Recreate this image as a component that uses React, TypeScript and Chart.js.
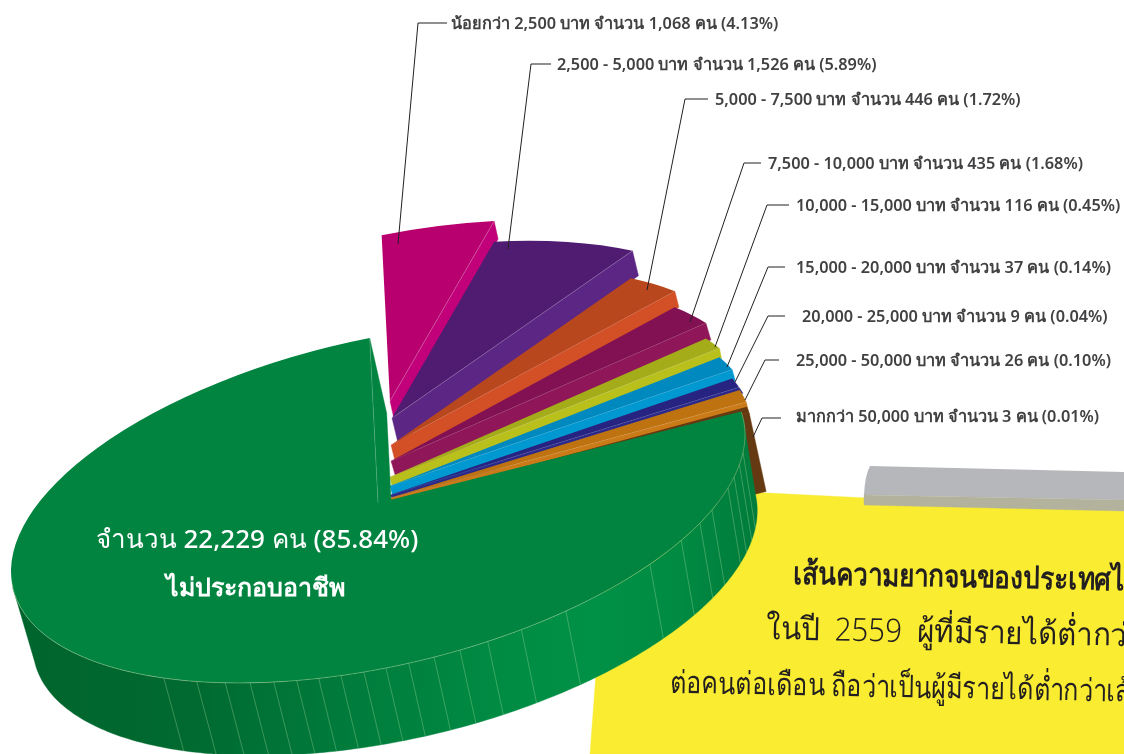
import React, { useEffect, useRef } from "react";
import { Chart, registerables } from "chart.js";

Chart.register(...registerables);

// ---------- data ----------
const categories = [
  "น้อยกว่า 2,500", "2,500 - 5,000", "5,000 - 7,500", "7,500 - 10,000", "10,000 - 15,000",
  "15,000 - 20,000", "20,000 - 25,000", "25,000 - 50,000", "มากกว่า 50,000", "ไม่ประกอบอาชีพ",
];
const peopleCounts = ["1,068", "1,526", "446", "435", "116", "37", "9", "26", "3", "22,229"];
const percentages = ["4.13", "5.89", "1.72", "1.68", "0.45", "0.14", "0.04", "0.10", "0.01", "85.84"];
// slice sizes as drawn in the picture (degrees of the disc; the small groups are drawn enlarged)
const drawnShares = [17.7, 25.3, 10.2, 9, 4.8, 5.5, 3.7, 4.7, 2.1, 277];

// ---------- styles ----------
const topColors = ["#b8006e", "#4f1c72", "#b9471d", "#811152", "#a4ac19", "#0089bf", "#272380", "#be7310", "#653a12", "#00843f"];
const wallColors = ["#c1007a", "#5c2784", "#d34f26", "#8f1759", "#b9c01b", "#0098d0", "#2b2a8a", "#cb7a18", "#653a12", "#00843f"];
const lifts = [[12, -102], [14, -85], [13, -58], [13, -42], [12, -26], [12, -17], [12, -8], [12, -5], [8, 1], [0, 0]];
const depths = [[4, 18], [6, 25], [4, 16], [5, 17], [2, 10], [3, 11], [4, 6], [3, 13], [17, 79], [17, 75]];
const radiusFactors = [1.005, 0.985, 0.983, 0.982, 0.985, 0.985, 0.985, 0.987, 1, 1];
const seamStrengths = [0.35, 0.3, 0.12, 0.12, 0.15, 0.15, 0.15, 0.15, 0, 0.3];
const seamAngles = [125.7, 119.6, 114.6, 110.4, 106.5, 102.8, 99.3, 95.8, 92.2, 88.75, 85.2, 81.2, 77.1, 72.6, 67, 59.2, 42.2, 34.3, 28.7, 24.5, 17.5, 14, 10, 6];
const leaders = [
  [[447, 23], [418, 23], [398, 244]],
  [[551, 64], [531, 64], [508, 249]],
  [[708, 99], [685, 99], [647, 290]],
  [[761, 163], [744, 163], [690, 322]],
  [[789, 205], [767, 205], [715, 347]],
  [[785, 267], [768, 267], [727, 367]],
  [[785, 316], [768, 316], [735, 382]],
  [[779, 360], [765, 360], [745, 400]],
  [[781, 418], [762, 418], [753, 437]],
];
const labelSpots = [[451, 24], [557, 65], [715, 100], [768, 164], [796, 206], [796, 268], [802, 317], [796, 361], [796, 417]];

const CX = 378, CY = 503;
const MXU = 367, MYU = -68.3, MYV = 166.5;
const BOTTOM_SCALE = 0.987;
const FONT = "'Noto Sans', 'DejaVu Sans', sans-serif";
const rad = (d: number) => (d * Math.PI) / 180;

function point(theta: number, lift: number[], r = 1): [number, number] {
  const u = r * Math.cos(theta), v = r * Math.sin(theta);
  return [CX + lift[0] + MXU * u, CY + lift[1] + MYU * u + MYV * v];
}

function poly(ctx: CanvasRenderingContext2D, pts: number[][], fill: string | CanvasGradient) {
  ctx.beginPath();
  pts.forEach((p, i) => (i ? ctx.lineTo(p[0], p[1]) : ctx.moveTo(p[0], p[1])));
  ctx.closePath();
  ctx.fillStyle = fill;
  ctx.fill();
  ctx.strokeStyle = fill;
  ctx.lineWidth = 0.4;
  ctx.stroke();
}

function line(ctx: CanvasRenderingContext2D, pts: number[][], color: string, w = 0.7) {
  ctx.beginPath();
  pts.forEach((p, i) => (i ? ctx.lineTo(p[0], p[1]) : ctx.moveTo(p[0], p[1])));
  ctx.strokeStyle = color;
  ctx.lineWidth = w;
  ctx.stroke();
}

function drawTop(ctx: CanvasRenderingContext2D, arc: any, lift: number[], factor: number) {
  const k = factor / arc.outerRadius;
  ctx.save();
  ctx.translate(CX + lift[0], CY + lift[1]);
  ctx.transform(MXU * k, MYU * k, 0, MYV * k, 0, 0);
  ctx.translate(-arc.x, -arc.y);
  arc.draw(ctx);
  ctx.restore();
}

const backdrop = {
  id: "backdrop",
  beforeDraw(chart: any) {
    const ctx = chart.ctx as CanvasRenderingContext2D;
    ctx.save();
    poly(ctx, [[610, 485], [1124, 511], [1124, 754], [590, 754]], "#f9ec31");
    ctx.beginPath();
    ctx.moveTo(864, 495);
    ctx.quadraticCurveTo(865, 475, 870, 466);
    ctx.lineTo(1124, 472);
    ctx.lineTo(1124, 500);
    ctx.closePath();
    ctx.fillStyle = "#b6b7ba";
    ctx.fill();
    poly(ctx, [[864, 495], [1124, 500], [1124, 511], [864, 505]], "#b3b29c");

    ctx.fillStyle = "#231f20";
    ctx.textBaseline = "middle";
    ctx.textAlign = "left";
    const tilt = rad(1.1);
    const put = (t: string, x: number, y: number, f: string, sx: number) => {
      ctx.save();
      ctx.translate(x, y);
      ctx.rotate(tilt);
      ctx.scale(sx, 1);
      ctx.font = f;
      ctx.fillText(t, 0, 0);
      ctx.restore();
    };
    put("เส้นความยากจนของประเทศไทย", 793, 575, `bold 31px ${FONT}`, 0.84);
    put("ในปี  2559  ผู้ที่มีรายได้ต่ำกว่า 2,667 บาท", 766, 630, `300 32px ${FONT}`, 0.92);
    put("ต่อคนต่อเดือน ถือว่าเป็นผู้มีรายได้ต่ำกว่าเส้นความยากจน", 670, 684, `300 31px ${FONT}`, 0.81);
    ctx.restore();
  },
};

const pie3d = {
  id: "pie3d",
  beforeDatasetsDraw(chart: any) {
    const ctx = chart.ctx as CanvasRenderingContext2D;
    const arcs = chart.getDatasetMeta(0).data as any[];
    const n = arcs.length;
    ctx.save();
    arcs.forEach((arc, i) => {
      const lift = lifts[i], d = depths[i], f = radiusFactors[i];
      if (i === n - 1) {
        // outer rim of the big slice
        const top: number[][] = [], bottom: number[][] = [];
        for (let a = -5.6; a <= 174.4; a += 1) {
          top.push(point(rad(a), lift));
          const q = point(rad(a), [lift[0] + d[0], lift[1] + d[1]], BOTTOM_SCALE);
          bottom.unshift(q);
        }
        const g = ctx.createLinearGradient(30, 0, 770, 0);
        g.addColorStop(0, "#00652d");
        g.addColorStop(0.22, "#006a30");
        g.addColorStop(0.45, "#007d3c");
        g.addColorStop(0.65, "#008c43");
        g.addColorStop(0.76, "#009146");
        g.addColorStop(0.88, "#008a42");
        g.addColorStop(1, "#00793a");
        poly(ctx, top.concat(bottom), g);
        seamAngles.forEach((a) => {
          line(ctx, [point(rad(a), lift), point(rad(a), [lift[0] + d[0], lift[1] + d[1]], BOTTOM_SCALE)], "rgba(190,230,170,0.45)", 0.7);
        });
      }
      const end = arc.endAngle;
      const outer = point(end, lift, f);
      const apex = point(0, lift, 0);
      poly(ctx, [outer, [outer[0] + d[0], outer[1] + d[1]], [apex[0] + d[0], apex[1] + d[1]], apex], wallColors[i]);
      drawTop(ctx, arc, lift, f);
      if (seamStrengths[i] > 0) line(ctx, [outer, apex], `rgba(255,255,255,${seamStrengths[i]})`, 0.6);
      if (i === n - 1) {
        const rim: number[][] = [];
        for (let a = -8; a <= 176; a += 1) rim.push(point(rad(a), lift));
        line(ctx, rim, "rgba(200,230,170,0.55)", 0.7);
      }
    });
    ctx.restore();
    return false;
  },
};

const annotations = {
  id: "annotations",
  afterDraw(chart: any) {
    const ctx = chart.ctx as CanvasRenderingContext2D;
    ctx.save();
    leaders.forEach((l) => line(ctx, l, "#231f20", 1));
    ctx.textBaseline = "middle";
    ctx.textAlign = "left";
    ctx.fillStyle = "#414042";
    ctx.font = `600 16.3px ${FONT}`;
    labelSpots.forEach((s, i) => {
      ctx.fillText(`${categories[i]} บาท จำนวน ${peopleCounts[i]} คน (${percentages[i]}%)`, s[0], s[1]);
    });
    const last = categories.length - 1;
    ctx.fillStyle = "#ffffff";
    ctx.textAlign = "center";
    ctx.font = `500 26px ${FONT}`;
    ctx.fillText(`จำนวน ${peopleCounts[last]} คน (${percentages[last]}%)`, 257, 541);
    ctx.font = `bold 25px ${FONT}`;
    ctx.fillText(categories[last], 255, 589);
    ctx.restore();
  },
};

export default function App() {
  const ref = useRef<HTMLCanvasElement>(null);
  useEffect(() => {
    const chart = new Chart(ref.current!, {
      type: "pie",
      data: {
        labels: categories,
        datasets: [{ data: drawnShares, backgroundColor: topColors, borderWidth: 0 }],
      },
      options: {
        animation: false,
        responsive: false,
        rotation: -1.3,
        radius: 300,
        events: [],
        plugins: { legend: { display: false }, tooltip: { enabled: false } },
      },
      plugins: [backdrop, pie3d, annotations],
    } as any);
    return () => chart.destroy();
  }, []);
  return (
    <div style={{ position: "absolute", left: 0, top: 0, width: 1124, height: 754, overflow: "hidden", background: "#fff" }}>
      <canvas ref={ref} width={1124} height={754} style={{ display: "block" }} />
    </div>
  );
}
